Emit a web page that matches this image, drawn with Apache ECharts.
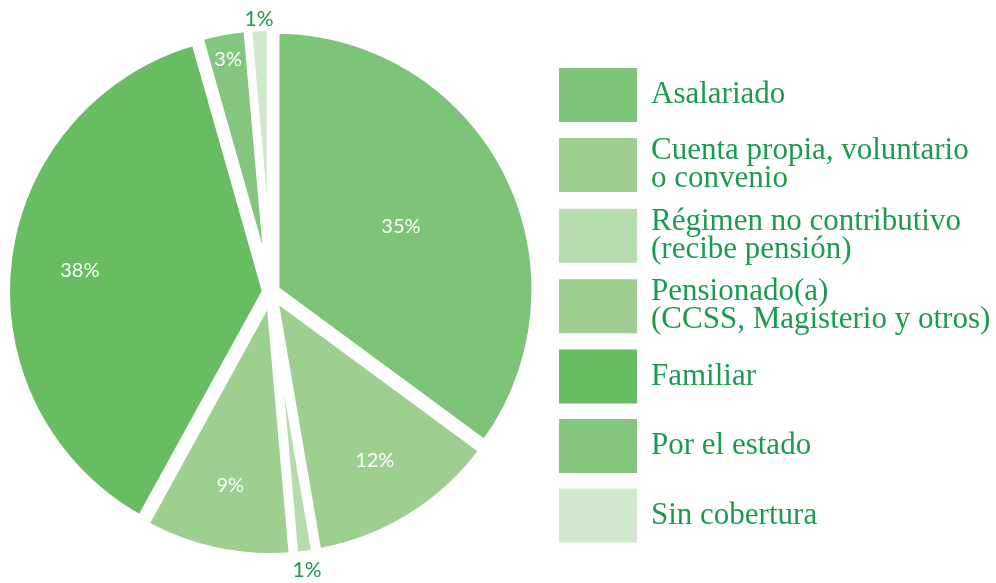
<!DOCTYPE html>
<html>
<head>
<meta charset="utf-8">
<script src="https://cdn.jsdelivr.net/npm/echarts@6/dist/echarts.min.js"></script>
<style>
  html, body { margin: 0; padding: 0; background: #fff; }
  #main { width: 996px; height: 583px; }
</style>
</head>
<body>
<div id="main"></div>
<script>
// categorias y valores (%), en el orden de la torta (sentido horario desde arriba)
const categories = [
  'Asalariado',
  'Cuenta propia, voluntario\no convenio',
  'Régimen no contributivo\n(recibe pensión)',
  'Pensionado(a)\n(CCSS, Magisterio y otros)',
  'Familiar',
  'Por el estado',
  'Sin cobertura'
];
const values = [35.1, 12.2, 1.3, 9.4, 37.6, 3.0, 1.4];

const colors = ['#7dc478', '#9ccf90', '#b6dcad', '#9ccf90', '#68bc62', '#85c67e', '#d0e8cb'];
// distancia de cada etiqueta al centro, como fraccion del radio
const labelDist = [0.56, 0.76, 1.08, 0.76, 0.74, 0.91, 1.05];

const cx = 271, cy = 292, R = 260;

let myChart = echarts.init(document.getElementById('main'));

let option = {
  animation: false,
  legend: {
    orient: 'vertical',
    left: 557,
    top: 66,
    padding: 0,
    icon: 'rect',
    itemWidth: 80,
    itemHeight: 56,
    itemGap: 11.6,
    selectedMode: false,
    data: categories,
    textStyle: {
      color: '#1b9a50',
      fontFamily: 'Liberation Serif',
      fontSize: 31,
      lineHeight: 28,
      padding: [0, 0, 0, 8]
    }
  },
  series: [
    // sectores, separados un poco del centro
    {
      type: 'pie',
      z: 1,
      center: [cx, cy],
      radius: R,
      startAngle: 90,
      silent: true,
      selectedMode: 'multiple',
      selectedOffset: 5,
      itemStyle: { borderColor: '#fff', borderWidth: 8 },
      select: { itemStyle: { borderColor: '#fff', borderWidth: 8 } },
      label: { show: false },
      labelLine: { show: false },
      data: categories.map((name, i) => ({
        name: name,
        value: values[i],
        selected: true,
        itemStyle: { color: colors[i] }
      }))
    },
    // solo etiquetas
    {
      type: 'pie',
      z: 10,
      center: [cx, cy],
      radius: R,
      startAngle: 90,
      silent: true,
      itemStyle: { color: 'rgba(0,0,0,0)' },
      label: {
        show: true,
        position: 'inside',
        color: '#fff',
        fontFamily: 'Lato',
        fontSize: 20,
        formatter: p => Math.round(p.value) + '%'
      },
      labelLine: { show: false },
      labelLayout: function (params) {
        const r = params.labelRect;
        const lx = r.x + r.width / 2, ly = r.y + r.height / 2;
        const a = Math.atan2(ly - cy, lx - cx);
        const d = labelDist[params.dataIndex] * R;
        return {
          x: cx + Math.cos(a) * d,
          y: cy + Math.sin(a) * d,
          align: 'center',
          verticalAlign: 'middle'
        };
      },
      data: values.map((v, i) => ({
        value: v,
        label: labelDist[i] > 1 ? { color: '#1b9a50', fontSize: 21 } : {}
      }))
    }
  ]
};

myChart.setOption(option);
</script>
</body>
</html>
